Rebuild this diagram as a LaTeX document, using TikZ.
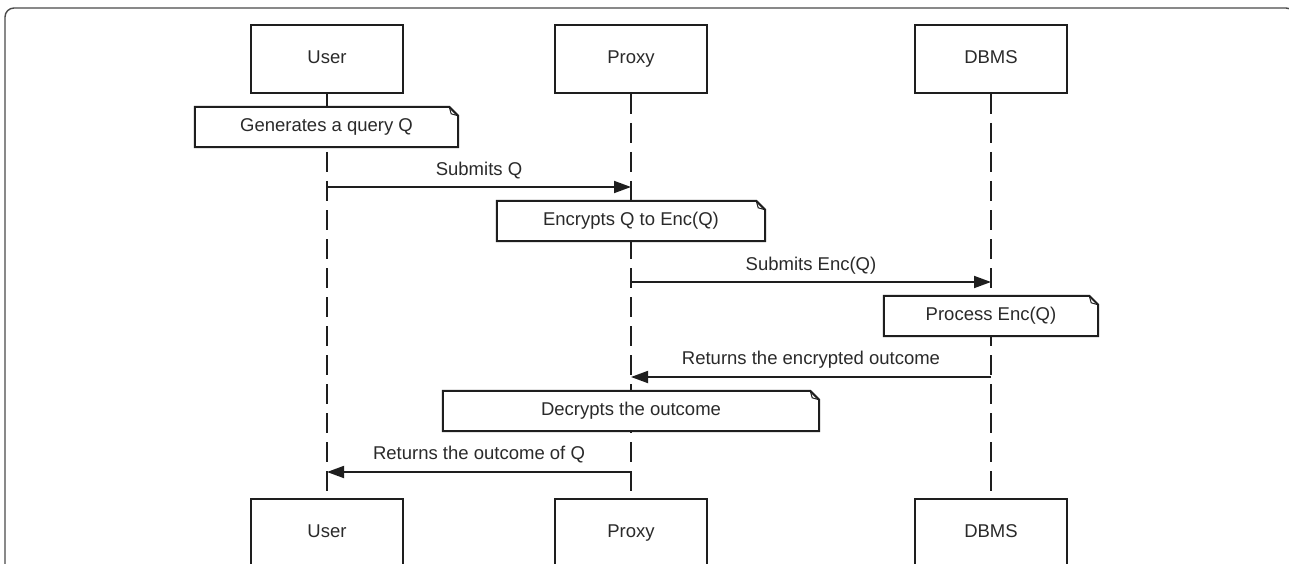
\documentclass[tikz,border=0pt]{standalone}
\usepackage{fontspec}
\setmainfont{Liberation Sans}
\usetikzlibrary{arrows.meta}
\definecolor{ln}{HTML}{1E1E1E}
\definecolor{tx}{HTML}{2A2A2A}
\tikzset{
  txt/.style={text=tx, font=\fontsize{18.5}{22}\selectfont, text height=13.5pt, text depth=4pt},
  actor/.style={txt, draw=ln, line width=2pt, fill=white, minimum width=152pt, minimum height=68pt, inner sep=0pt},
  notebox/.style={txt, fill=white, minimum height=40pt, inner sep=0pt},
  lifeline/.style={draw=ln, line width=2pt, dash pattern=on 20pt off 9pt},
  msg/.style={draw=ln, line width=1.8pt, -{Triangle[length=17pt,width=12pt]}},
  msglabel/.style={txt, inner sep=0pt},
  noteline/.style={draw=ln, line width=2pt, line join=miter}
}
\newcommand{\notedraw}[1]{%
  \draw[noteline] (#1.south west) -- (#1.north west) -- ([xshift=-9pt]#1.north east) -- ([yshift=-9pt]#1.north east) -- (#1.south east) -- cycle;
  \draw[ln, line width=1pt] ([xshift=-9pt]#1.north east) -- ([xshift=-7pt,yshift=-7pt]#1.north east) -- ([yshift=-9pt]#1.north east);
}
\begin{document}
\begin{tikzpicture}[x=1pt,y=-1pt]
\useasboundingbox (0,0) rectangle (1289,564);
\clip (0,0) rectangle (1289,564);
\fill[white] (0,0) rectangle (1289,564);
% frame
\draw[draw=ln!80, line width=1.4pt, rounded corners=9pt] (5,620) -- (5,8) -- (1295,8) -- (1295,620);

% actors
\node[actor] (ut) at (327,59) {User};
\node[actor] (pt) at (631,59) {Proxy};
\node[actor] (dt) at (991,59) {DBMS};
\node[actor] (ub) at (327,533) {User};
\node[actor] (pb) at (631,533) {Proxy};
\node[actor] (db) at (991,533) {DBMS};

% lifelines
\draw[lifeline] (ut.south) -- (ub.north);
\draw[lifeline] (pt.south) -- (pb.north);
\draw[lifeline] (dt.south) -- (db.north);

% notes
\node[notebox, minimum width=263pt] (n1) at (326.5,127) {Generates a query Q};
\notedraw{n1}
\node[notebox, minimum width=268pt] (n2) at (631,221) {Encrypts Q to Enc(Q)};
\notedraw{n2}
\node[notebox, minimum width=214pt] (n3) at (991,316) {Process Enc(Q)};
\notedraw{n3}
\node[notebox, minimum width=376pt] (n4) at (631,411) {Decrypts the outcome};
\notedraw{n4}

% message end points on lifelines
\coordinate (u1) at (327,187);
\coordinate (p1) at (631,187);
\coordinate (p2) at (631,282);
\coordinate (d2) at (991,282);
\coordinate (d3) at (991,377);
\coordinate (p3) at (631,377);
\coordinate (p4) at (631,472);
\coordinate (u4) at (327,472);

\draw[msg] (u1) -- (p1);
\node[msglabel] (l1) at (479,171) {Submits Q};
\draw[msg] (p2) -- (d2);
\node[msglabel] (l2) at (811,266) {Submits Enc(Q)};
\draw[msg] (d3) -- (p3);
\node[msglabel] (l3) at (811,360) {Returns the encrypted outcome};
\draw[msg] (p4) -- (u4);
\node[msglabel] (l4) at (479,455) {Returns the outcome of Q};
\end{tikzpicture}
\end{document}
